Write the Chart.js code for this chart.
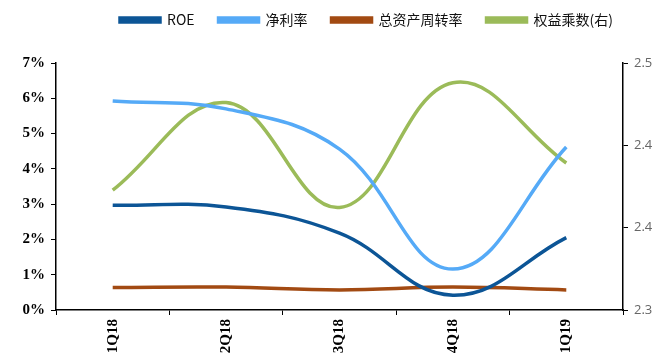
<!DOCTYPE html>
<html>
<head>
<meta charset="utf-8">
<script src="https://cdn.jsdelivr.net/npm/chart.js@4/dist/chart.umd.min.js"></script>
<style>
  html, body { margin: 0; padding: 0; background: #fff; }
  #wrap { width: 663px; height: 360px; }
</style>
</head>
<body>
<div id="wrap"><canvas id="c" width="663" height="360"></canvas></div>
<script>
// Quarterly DuPont breakdown
const quarters = ['1Q18', '2Q18', '3Q18', '4Q18', '1Q19'];
const roe = [2.97, 2.92, 2.18, 0.42, 2.05];            // %
const netMargin = [5.92, 5.70, 4.56, 1.16, 4.62];       // %
const assetTurnover = [0.64, 0.65, 0.57, 0.65, 0.57];   // %
const equityMultiplier = [2.397, 2.468, 2.383, 2.484, 2.419]; // right axis
const leftTicks = [0, 1, 2, 3, 4, 5, 6, 7];
const rightRange = [2.3, 2.5];

const series = [
  { label: 'ROE', data: roe, color: '#0c5596', axis: 'y' },
  { label: '净利率', data: netMargin, color: '#55aaf7', axis: 'y' },
  { label: '总资产周转率', data: assetTurnover, color: '#a24a12', axis: 'y' },
  { label: '权益乘数(右)', data: equityMultiplier, color: '#9bbb59', axis: 'y1' }
];

// fixed-height legend band, nudged up and to the right
const legendTweak = {
  id: 'legendTweak',
  afterInit(chart) {
    const lg = chart.legend;
    const fit = lg.fit;
    lg.fit = function () { fit.call(this); this.height = 63; };
  },
  afterLayout(chart) {
    const lg = chart.legend;
    lg.left += 35;
    lg.right += 35;
    lg.top -= 11;
    lg.bottom -= 11;
  }
};

new Chart(document.getElementById('c'), {
  type: 'line',
  data: {
    labels: quarters,
    datasets: series.map(s => ({
      label: s.label,
      data: s.data,
      yAxisID: s.axis,
      borderColor: s.color,
      backgroundColor: s.color,
      borderWidth: 3.5,
      pointRadius: 0,
      tension: 0.4,
      fill: false
    }))
  },
  plugins: [legendTweak],
  options: {
    responsive: false,
    animation: false,
    layout: { padding: 0 },
    plugins: {
      tooltip: { enabled: false },
      legend: {
        position: 'top',
        labels: {
          boxWidth: 40,
          boxHeight: 4,
          padding: 24,
          color: '#111',
          font: { family: '"Noto Sans CJK SC", sans-serif', size: 14 }
        }
      }
    },
    scales: {
      x: {
        offset: true,
        afterFit: ax => { ax.height = 50; },
        grid: {
          display: true,
          offset: true,
          drawOnChartArea: false,
          drawTicks: true,
          tickLength: 5,
          color: '#000'
        },
        border: { color: '#000', width: 1.5 },
        ticks: {
          minRotation: 90,
          maxRotation: 90,
          color: '#000',
          padding: 4,
          font: { family: '"Liberation Serif", serif', size: 15, weight: 'bold' }
        }
      },
      y: {
        position: 'left',
        min: leftTicks[0],
        max: leftTicks[leftTicks.length - 1],
        afterBuildTicks: ax => { ax.ticks = leftTicks.map(v => ({ value: v })); },
        afterFit: ax => { ax.width = 56; },
        grid: { drawOnChartArea: false, tickLength: 5, color: '#000' },
        border: { color: '#000', width: 1.5 },
        ticks: {
          color: '#000',
          padding: 6,
          callback: v => v + '%',
          font: { family: '"Liberation Serif", serif', size: 15, weight: 'bold' }
        }
      },
      y1: {
        position: 'right',
        min: rightRange[0],
        max: rightRange[1],
        afterBuildTicks: ax => {
          const step = (rightRange[1] - rightRange[0]) / 3;
          ax.ticks = [0, 1, 2, 3].map(i => ({ value: rightRange[0] + step * i }));
        },
        afterFit: ax => { ax.width = 40; },
        grid: { drawOnChartArea: false, tickLength: 5, color: '#000' },
        border: { color: '#000', width: 1.5 },
        ticks: {
          color: '#666',
          padding: 6,
          callback: v => Number(v).toFixed(1),
          font: { family: '"Open Sans", sans-serif', size: 13 }
        }
      }
    }
  }
});
</script>
</body>
</html>
